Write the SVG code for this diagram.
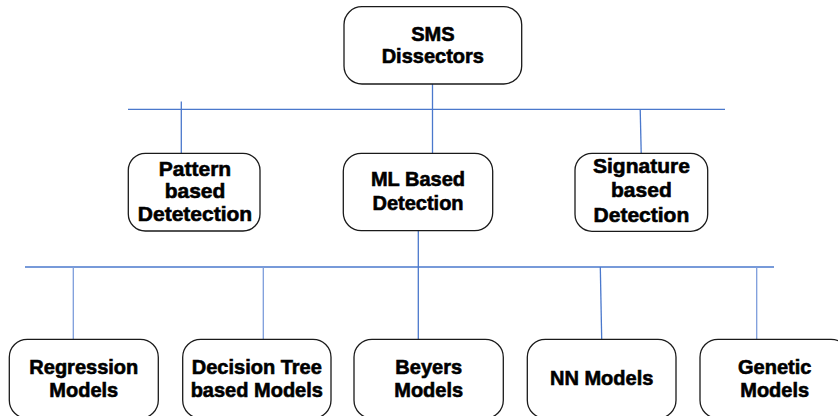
<svg xmlns="http://www.w3.org/2000/svg" width="838" height="416" viewBox="0 0 838 416">
<style>
.box{fill:#fff;stroke:#1a1a1a;stroke-width:1.3}
.t{font-family:"Liberation Sans",Arial,sans-serif;font-weight:bold;font-size:20px;fill:#000;stroke:#000;stroke-width:0.6;text-anchor:middle}
.tl{font-size:21px}
.c{stroke:#4a78cc;stroke-width:1.3;fill:none}
.c2{stroke:#7d9ddc;stroke-width:1.3;fill:none}
</style>
<rect width="838" height="416" fill="#fff"/>
<g id="connectors">
<line class="c" x1="432.5" y1="84" x2="432.5" y2="153"/>
<line class="c" x1="128" y1="109.3" x2="725" y2="109.3"/>
<line class="c" x1="181.3" y1="101.5" x2="181.3" y2="153"/>
<line class="c" x1="640.2" y1="109.3" x2="641.2" y2="153"/>
<line class="c" x1="418.3" y1="231" x2="418.3" y2="339"/>
<line class="c" x1="25" y1="267" x2="774" y2="267"/>
<line class="c2" x1="73.3" y1="267" x2="73.3" y2="339"/>
<line class="c2" x1="263.3" y1="267" x2="263.3" y2="339"/>
<line class="c" x1="600.3" y1="267" x2="601.7" y2="339"/>
<line class="c2" x1="756.7" y1="267" x2="756.7" y2="339"/>
</g>
<g id="sms">
<rect class="box" x="344" y="6.7" width="177.7" height="77.3" rx="18"/>
<text class="t" x="432.8" y="40.7">SMS</text>
<text class="t" x="432.8" y="63.3">Dissectors</text>
</g>
<g id="pattern">
<rect class="box" x="128.3" y="153.3" width="131.7" height="77.7" rx="17"/>
<text class="t tl" x="195" y="175.7">Pattern</text>
<text class="t tl" x="195" y="198.3">based</text>
<text class="t tl" x="195" y="221">Detetection</text>
</g>
<g id="ml">
<rect class="box" x="343.3" y="153.3" width="149.4" height="77.4" rx="18"/>
<text class="t" x="418" y="185.7">ML Based</text>
<text class="t" x="418" y="210">Detection</text>
</g>
<g id="signature">
<rect class="box" x="575" y="153.3" width="132.7" height="78" rx="17"/>
<text class="t tl" x="641.4" y="173.3">Signature</text>
<text class="t tl" x="641.4" y="197.3">based</text>
<text class="t tl" x="641.4" y="221.7">Detection</text>
</g>
<g id="regression">
<rect class="box" x="9.3" y="339.3" width="149" height="79" rx="18"/>
<text class="t" x="83.8" y="374">Regression</text>
<text class="t" x="83.8" y="396.7">Models</text>
</g>
<g id="decision">
<rect class="box" x="182.7" y="339.3" width="148.3" height="79" rx="18"/>
<text class="t" x="256.8" y="374">Decision Tree</text>
<text class="t" x="256.8" y="396.7">based Models</text>
</g>
<g id="beyers">
<rect class="box" x="354" y="339.3" width="149.3" height="79" rx="18"/>
<text class="t" x="428.7" y="374">Beyers</text>
<text class="t" x="428.7" y="396.7">Models</text>
</g>
<g id="nn">
<rect class="box" x="527.3" y="339.3" width="148.7" height="79" rx="18"/>
<text class="t" x="601.7" y="385">NN Models</text>
</g>
<g id="genetic">
<rect class="box" x="700" y="339.3" width="149" height="79" rx="18"/>
<text class="t" x="774.7" y="374">Genetic</text>
<text class="t" x="774.7" y="396.7">Models</text>
</g>
</svg>
